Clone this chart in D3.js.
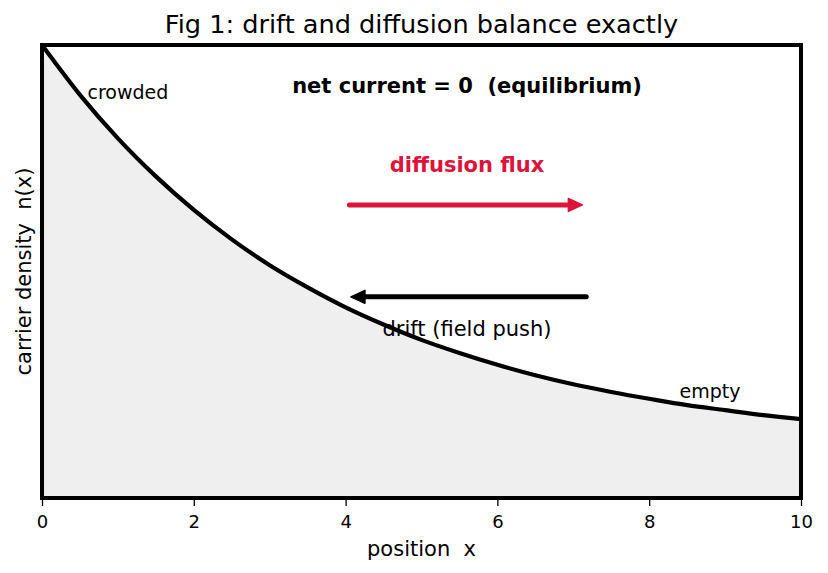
<!DOCTYPE html>
<html>
<head>
<meta charset="utf-8">
<script src="https://d3js.org/d3.v7.min.js"></script>
<style>
  body { margin: 0; background: #fff; }
  text { font-family: "DejaVu Sans", sans-serif; white-space: pre; }
</style>
</head>
<body>
<svg id="chart" width="828" height="573"></svg>
<script>
// carrier density, y normalised so n(0) = 1
const positions = [0, 0.5, 1, 1.5, 2, 2.5, 3, 3.5, 4, 4.5, 5, 5.5, 6, 6.5, 7, 7.5, 8, 8.5, 9, 9.5, 10];
const density = [1.000, 0.890, 0.794, 0.710, 0.636, 0.571, 0.514, 0.465, 0.421, 0.383, 0.349,
                 0.320, 0.294, 0.271, 0.251, 0.234, 0.219, 0.205, 0.194, 0.183, 0.174];
const xTicks = [0, 2, 4, 6, 8, 10];

// arrows: [from x, to x, y]
const diffusionArrow = [4.05, 7.12, 0.647];
const driftArrow = [7.17, 4.07, 0.444];

const width = 828, height = 573;
const margin = {top: 45, right: 27, bottom: 75, left: 42};

const svg = d3.select("#chart");

const x = d3.scaleLinear().domain([0, 10]).range([margin.left, width - margin.right]);
const y = d3.scaleLinear().domain([0, 1]).range([height - margin.bottom, margin.top]);

const pts = positions.map((p, i) => [p, density[i]]);

// shaded area under the curve
const area = d3.area()
    .x(d => x(d[0]))
    .y0(y(0))
    .y1(d => y(d[1]))
    .curve(d3.curveMonotoneX);

svg.append("path")
    .datum(pts)
    .attr("d", area)
    .attr("fill", "#efefef");

svg.append("clipPath").attr("id", "clip")
  .append("rect")
    .attr("x", x(0)).attr("y", y(1))
    .attr("width", x(10) - x(0)).attr("height", y(0) - y(1));

const line = d3.line()
    .x(d => x(d[0]))
    .y(d => y(d[1]))
    .curve(d3.curveMonotoneX);

svg.append("path")
    .datum(pts)
    .attr("d", line)
    .attr("clip-path", "url(#clip)")
    .attr("fill", "none")
    .attr("stroke", "#000")
    .attr("stroke-width", 4.2);

// arrows
function arrow(a, color) {
  const x0 = x(a[0]), x1 = x(a[1]), yy = y(a[2]);
  const dir = Math.sign(x1 - x0);
  const headLen = 14, headHalf = 6.5;
  svg.append("line")
      .attr("x1", x0).attr("y1", yy)
      .attr("x2", x1 - dir * headLen * 0.6).attr("y2", yy)
      .attr("stroke", color)
      .attr("stroke-width", 5)
      .attr("stroke-linecap", "round");
  svg.append("path")
      .attr("d", `M${x1},${yy} L${x1 - dir * headLen},${yy - headHalf} L${x1 - dir * headLen},${yy + headHalf} Z`)
      .attr("fill", color)
      .attr("stroke", color)
      .attr("stroke-width", 1.5)
      .attr("stroke-linejoin", "round");
}
arrow(diffusionArrow, "#dc143c");
arrow(driftArrow, "#000");

// annotations
svg.append("text")
    .attr("x", x(5.6)).attr("y", y(0.894))
    .attr("text-anchor", "middle")
    .attr("font-size", 21).attr("font-weight", "bold")
    .text("net current = 0  (equilibrium)");

svg.append("text")
    .attr("x", x(0.6)).attr("y", y(0.881))
    .attr("font-size", 19)
    .text("crowded");

svg.append("text")
    .attr("x", x(5.6)).attr("y", y(0.720))
    .attr("text-anchor", "middle")
    .attr("font-size", 21).attr("font-weight", "bold")
    .attr("fill", "#dc143c")
    .text("diffusion flux");

svg.append("text")
    .attr("x", x(5.6)).attr("y", y(0.358))
    .attr("text-anchor", "middle")
    .attr("font-size", 21)
    .text("drift (field push)");

svg.append("text")
    .attr("x", x(8.8)).attr("y", y(0.221))
    .attr("text-anchor", "middle")
    .attr("font-size", 19)
    .text("empty");

// x axis
const xAxis = d3.axisBottom(x)
    .tickValues(xTicks)
    .tickSize(6)
    .tickPadding(9)
    .tickFormat(d3.format("d"));

const gx = svg.append("g")
    .attr("transform", `translate(0,${y(0) + 2})`)
    .call(xAxis);
gx.select(".domain").remove();
gx.selectAll(".tick line").attr("stroke-width", 1.3);
gx.selectAll(".tick text")
    .attr("font-size", 18)
    .attr("font-family", "DejaVu Sans, sans-serif");

// frame
svg.append("rect")
    .attr("x", x(0)).attr("y", y(1))
    .attr("width", x(10) - x(0)).attr("height", y(0) - y(1))
    .attr("fill", "none")
    .attr("stroke", "#000")
    .attr("stroke-width", 4);

// labels
svg.append("text")
    .attr("x", (x(0) + x(10)) / 2).attr("y", 556)
    .attr("text-anchor", "middle")
    .attr("font-size", 21)
    .text("position  x");

svg.append("text")
    .attr("transform", `translate(31,${(y(0) + y(1)) / 2}) rotate(-90)`)
    .attr("text-anchor", "middle")
    .attr("font-size", 21)
    .text("carrier density  n(x)");

svg.append("text")
    .attr("x", (x(0) + x(10)) / 2).attr("y", 33)
    .attr("text-anchor", "middle")
    .attr("font-size", 25.6)
    .text("Fig 1: drift and diffusion balance exactly");
</script>
</body>
</html>
